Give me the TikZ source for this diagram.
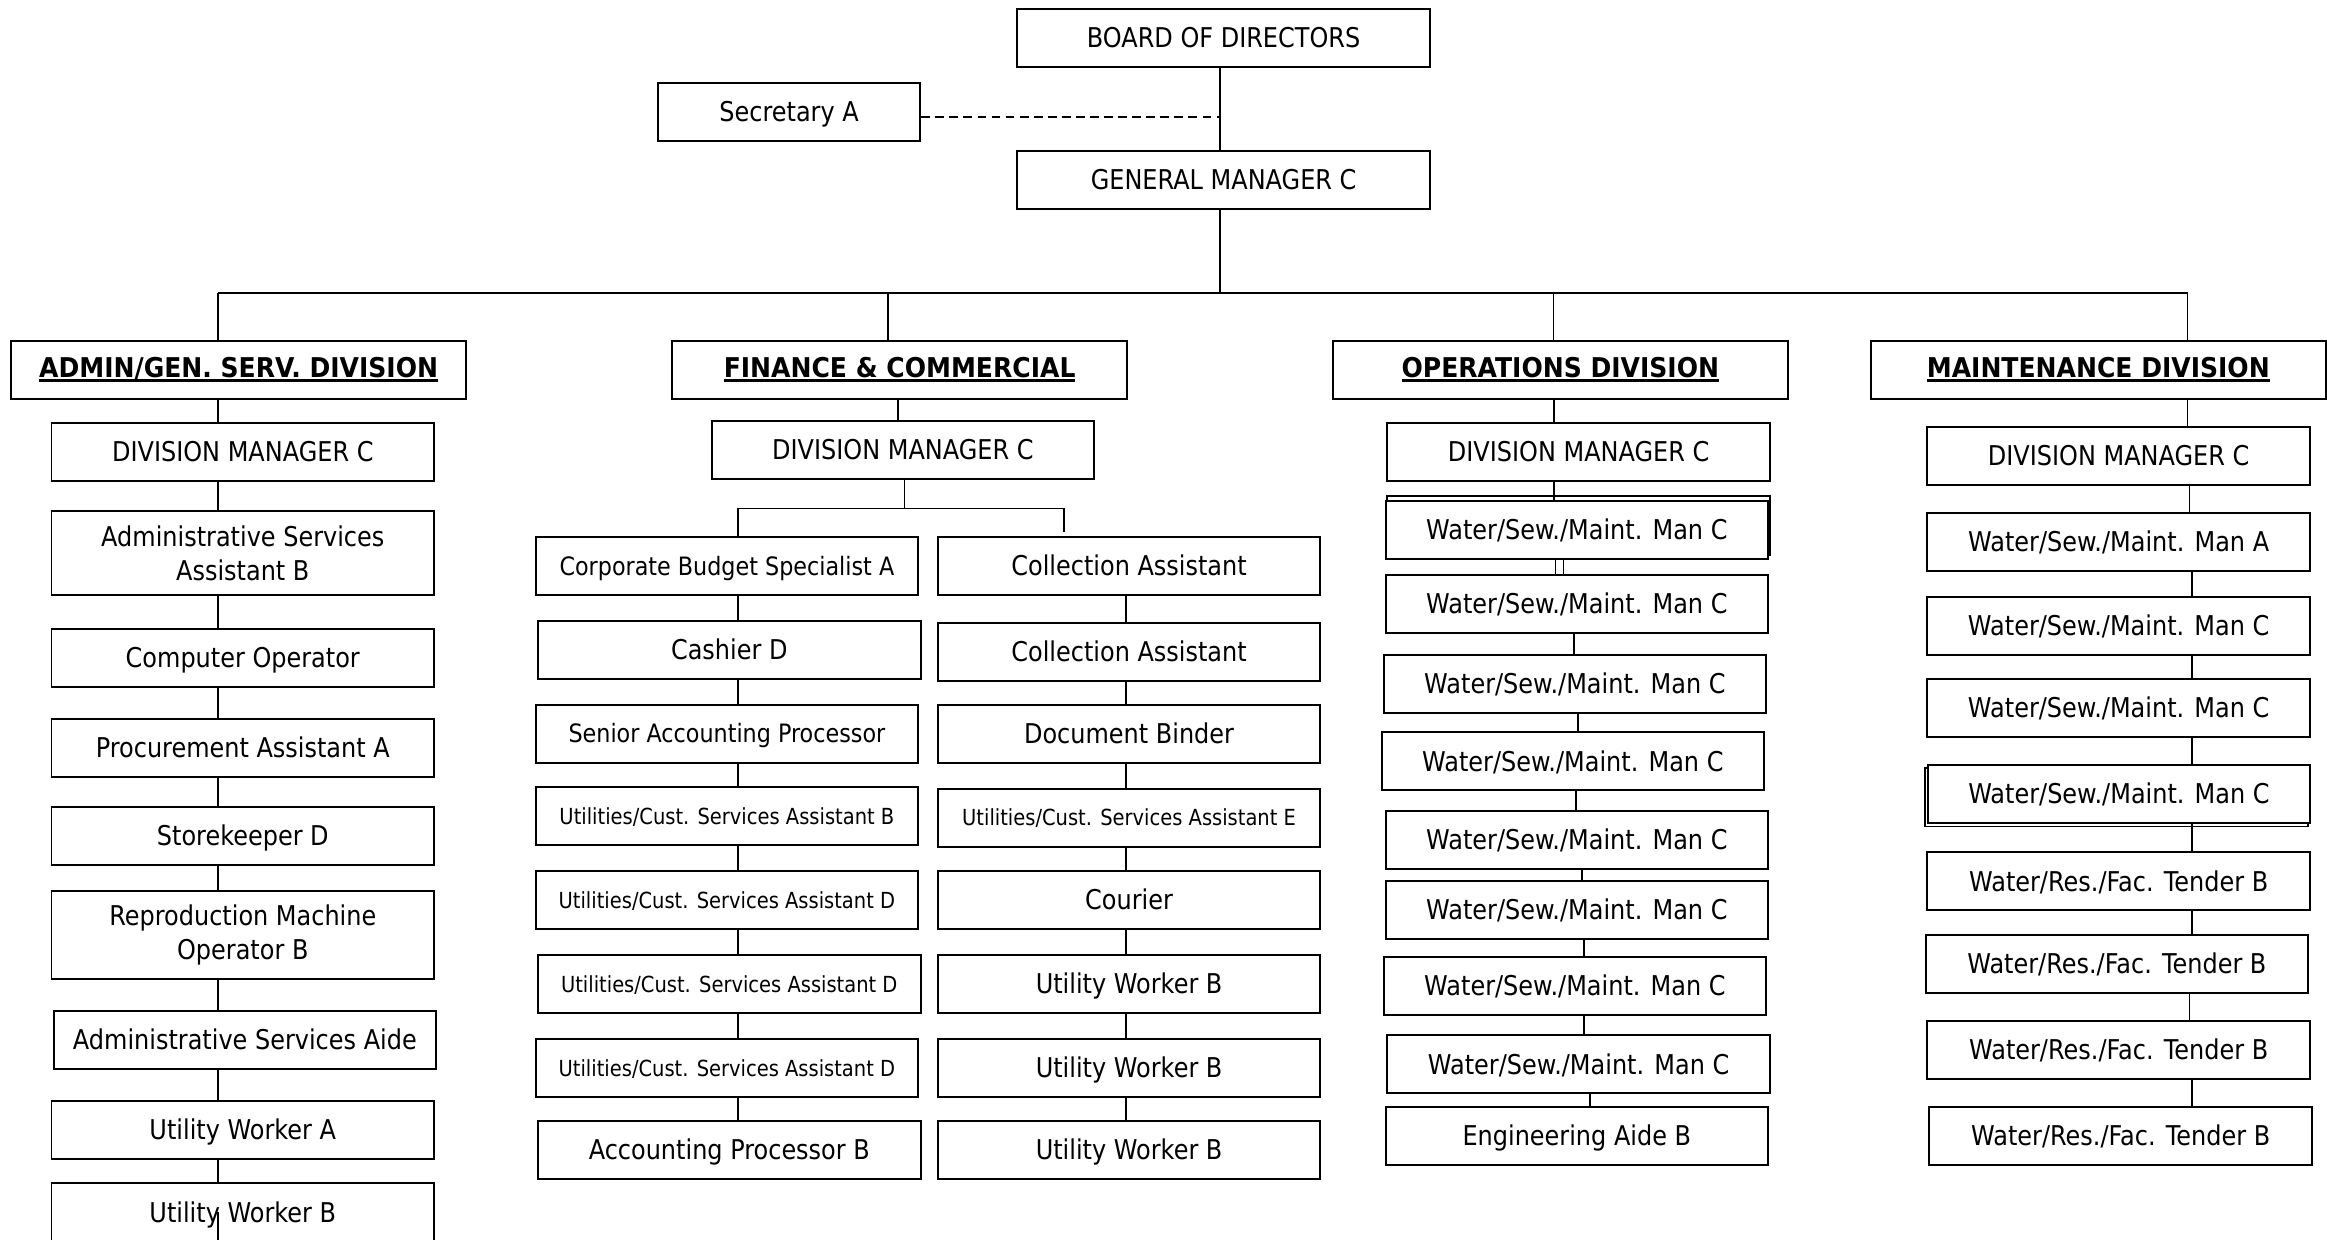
\documentclass[tikz,border=0pt]{standalone}
\usepackage{fontspec}
\setmainfont{DejaVu Sans}[FakeStretch=0.88]
\newfontfamily\headfont{DejaVu Sans}[FakeStretch=0.92]
\newcommand\divtitle[1]{\setbox0\hbox{#1}\rlap{\rule[-2.9pt]{\wd0}{1.8pt}}\box0}

\begin{document}
\begin{tikzpicture}[
    x=0.02968cm, y=-0.02968cm,
    % Node styles
    post/.style={draw, line width=1.1pt, fill=white, inner sep=0pt,
        minimum width=7.65cm, minimum height=1.16cm, align=center,
        font=\fontsize{15.5}{19.5}\selectfont, text height=11.3pt, text depth=0pt},
    top post/.style={post, minimum width=8.26cm},
    small post/.style={post, font=\fontsize{12.6}{15}\selectfont, text height=9.2pt},
    mid post/.style={post, font=\fontsize{14.4}{18}\selectfont, text height=10.5pt},
    tall post/.style={draw, line width=1.1pt, fill=white, inner sep=0pt,
        minimum width=7.65cm, align=center, font=\fontsize{15.5}{19.5}\selectfont},
    division/.style={post, minimum width=9.1cm, text depth=2.9pt,
        font=\headfont\bfseries\fontsize{15.5}{19.5}\selectfont},
    % Edge styles
    link/.style={line width=0.9pt},
    staff link/.style={line width=1.1pt, dash pattern=on 5pt off 3pt},
    double edge/.style={line width=1.1pt}
]
    \useasboundingbox (0,0) rectangle (1568,835);

    % =========================================================================
    % 1. Board, secretary and general manager
    % =========================================================================
    \node[top post] (board) at (824.5,25.6) {BOARD OF DIRECTORS};
    \node[post, minimum width=5.25cm, minimum height=1.17cm] (secretary) at (531.7,75.5) {Secretary A};
    \node[top post] (gm) at (824.5,121.2) {GENERAL MANAGER C};

    \coordinate (trunk) at (822,0);
    \coordinate (staff) at (822,78.6);
    \coordinate (bus) at (822,197.4);

    % =========================================================================
    % 2. Division heads
    % =========================================================================
    \node[division] (hadm) at (160.8,249.3) {\divtitle{ADMIN/GEN. SERV. DIVISION}};
    \node[division] (hfin) at (606.2,249.3) {\divtitle{FINANCE \& COMMERCIAL}};
    \node[division] (hops) at (1051.4,249.3) {\divtitle{OPERATIONS DIVISION}};
    \node[division] (hmnt) at (1413.9,249.3) {\divtitle{MAINTENANCE DIVISION}};

    \coordinate (dadm) at (147,197.4);
    \coordinate (dfin) at (598.4,197.4);
    \coordinate (dops) at (1046.7,197.4);
    \coordinate (dmnt) at (1474,197.4);

    % =========================================================================
    % 3. Admin / general services column
    % =========================================================================
    \node[post] (a1) at (163.6,304.5) {DIVISION MANAGER C};
    \node[tall post, minimum height=1.67cm] (a2) at (163.6,372.7) {Administrative Services\\Assistant B};
    \node[post] (a3) at (163.6,443.3) {Computer Operator};
    \node[post] (a4) at (163.6,503.9) {Procurement Assistant A};
    \node[post] (a5) at (163.6,563.2) {Storekeeper D};
    \node[tall post, minimum height=1.77cm] (a6) at (163.6,629.9) {Reproduction Machine\\Operator B};
    \node[post] (a7) at (165,700.6) {Administrative Services Aide};
    \node[post] (a8) at (163.6,761.3) {Utility Worker A};
    \node[post] (a9) at (163.6,816.8) {Utility Worker B};

    % =========================================================================
    % 4. Finance & commercial columns
    % =========================================================================
    \node[post] (fdm) at (608.4,303.2) {DIVISION MANAGER C};

    \node[mid post] (fl1) at (489.8,381.3) {Corporate Budget Specialist A};
    \node[post] (fl2) at (491.4,437.9) {Cashier D};
    \node[mid post] (fl3) at (489.8,494.4) {Senior Accounting Processor};
    \node[small post] (fl4) at (489.8,549.8) {Utilities/Cust. Services Assistant B};
    \node[small post] (fl5) at (489.8,606.4) {Utilities/Cust. Services Assistant D};
    \node[small post] (fl6) at (491.4,663) {Utilities/Cust. Services Assistant D};
    \node[small post] (fl7) at (489.8,719.6) {Utilities/Cust. Services Assistant D};
    \node[post] (fl8) at (491.4,774.9) {Accounting Processor B};

    \node[post] (fr1) at (760.8,381.3) {Collection Assistant};
    \node[post] (fr2) at (760.8,439.3) {Collection Assistant};
    \node[post] (fr3) at (760.8,494.4) {Document Binder};
    \node[small post] (fr4) at (760.8,551.1) {Utilities/Cust. Services Assistant E};
    \node[post] (fr5) at (760.8,606.4) {Courier};
    \node[post] (fr6) at (760.8,663) {Utility Worker B};
    \node[post] (fr7) at (760.8,719.6) {Utility Worker B};
    \node[post] (fr8) at (760.8,774.9) {Utility Worker B};

    \coordinate (sfin) at (605,0);
    \coordinate (fbus) at (609.4,342.7);
    \coordinate (fbusl) at (497.3,342.7);
    \coordinate (fbusr) at (717,342.7);
    \coordinate (fdropr) at (717,358.7);
    \coordinate (sfl) at (497.3,0);
    \coordinate (sfr) at (758.9,0);

    % =========================================================================
    % 5. Operations column (first box drawn twice)
    % =========================================================================
    \node[post] (odm) at (1063.7,304.4) {DIVISION MANAGER C};
    \draw[double edge] (934.8,334.5) rectangle (1192.6,374);
    \node[post] (o1) at (1062.5,357) {Water/Sew./Maint. Man C};
    \node[post] (o2) at (1062.5,406.7) {Water/Sew./Maint. Man C};
    \node[post] (o3) at (1061.2,460.6) {Water/Sew./Maint. Man C};
    \node[post] (o4) at (1059.8,513) {Water/Sew./Maint. Man C};
    \node[post] (o5) at (1062.5,566) {Water/Sew./Maint. Man C};
    \node[post] (o6) at (1062.5,613) {Water/Sew./Maint. Man C};
    \node[post] (o7) at (1061.2,664.1) {Water/Sew./Maint. Man C};
    \node[post] (o8) at (1063.7,717) {Water/Sew./Maint. Man C};
    \node[post] (o9) at (1062.5,765.3) {Engineering Aide B};

    % =========================================================================
    % 6. Maintenance column (fourth box drawn twice)
    % =========================================================================
    \node[post] (mdm) at (1427.6,307.3) {DIVISION MANAGER C};
    \node[post] (m1) at (1427.6,365.1) {Water/Sew./Maint. Man A};
    \node[post] (m2) at (1427.6,421.7) {Water/Sew./Maint. Man C};
    \node[post] (m3) at (1427.6,476.9) {Water/Sew./Maint. Man C};
    \draw[double edge] (1297.3,517.8) rectangle (1555.4,556.9);
    \node[post] (m4) at (1427.8,534.9) {Water/Sew./Maint. Man C};
    \node[post] (m5) at (1427.6,593.7) {Water/Res./Fac. Tender B};
    \node[post] (m6) at (1426.4,649.4) {Water/Res./Fac. Tender B};
    \node[post] (m7) at (1427.6,707.4) {Water/Res./Fac. Tender B};
    \node[post] (m8) at (1429,765.3) {Water/Res./Fac. Tender B};

    % =========================================================================
    % 7. Connectors
    % =========================================================================
    \draw[link] (board.south -| trunk) -- (gm.north -| trunk);
    \draw[staff link] (secretary.east |- staff) -- (staff);
    \draw[link] (gm.south -| trunk) -- (bus);
    \draw[link] (dadm) -- (dmnt);
    \foreach \d/\h in {dadm/hadm, dfin/hfin, dops/hops, dmnt/hmnt}
        \draw[link] (\d) -- (\h.north -| \d);

    % Admin spine
    \foreach \u/\l in {hadm/a1, a1/a2, a2/a3, a3/a4, a4/a5, a5/a6, a6/a7, a7/a8, a8/a9}
        \draw[link] (\u.south -| dadm) -- (\l.north -| dadm);
    \draw[link] (a9.center -| dadm) -- (a9.south -| dadm);

    % Finance spines
    \draw[link] (hfin.south -| sfin) -- (fdm.north -| sfin);
    \draw[link] (fdm.south -| fbus) -- (fbus);
    \draw[link] (fl1.north -| fbusl) -- (fbusl) -- (fbusr) -- (fdropr);
    \foreach \u/\l in {fl1/fl2, fl2/fl3, fl3/fl4, fl4/fl5, fl5/fl6, fl6/fl7, fl7/fl8}
        \draw[link] (\u.south -| sfl) -- (\l.north -| sfl);
    \foreach \u/\l in {fr1/fr2, fr2/fr3, fr3/fr4, fr4/fr5, fr5/fr6, fr6/fr7, fr7/fr8}
        \draw[link] (\u.south -| sfr) -- (\l.north -| sfr);

    % Operations spine
    \foreach \u/\l/\x in {hops/odm/1047, odm/o1/1047, o1/o2/1048.2, o1/o2/1053.6,
            o2/o3/1060.6, o3/o4/1063.3, o4/o5/1061.9, o5/o6/1066, o6/o7/1067.3,
            o7/o8/1067.3, o8/o9/1071.4}
        \draw[link] (\u.south -| \x,0) -- (\l.north -| \x,0);

    % Maintenance spine
    \foreach \u/\l/\x in {hmnt/mdm/1474, mdm/m1/1475.4, m1/m2/1477, m2/m3/1477,
            m3/m4/1477, m4/m5/1477, m5/m6/1477, m6/m7/1475.4, m7/m8/1477}
        \draw[link] (\u.south -| \x,0) -- (\l.north -| \x,0);
\end{tikzpicture}
\end{document}
